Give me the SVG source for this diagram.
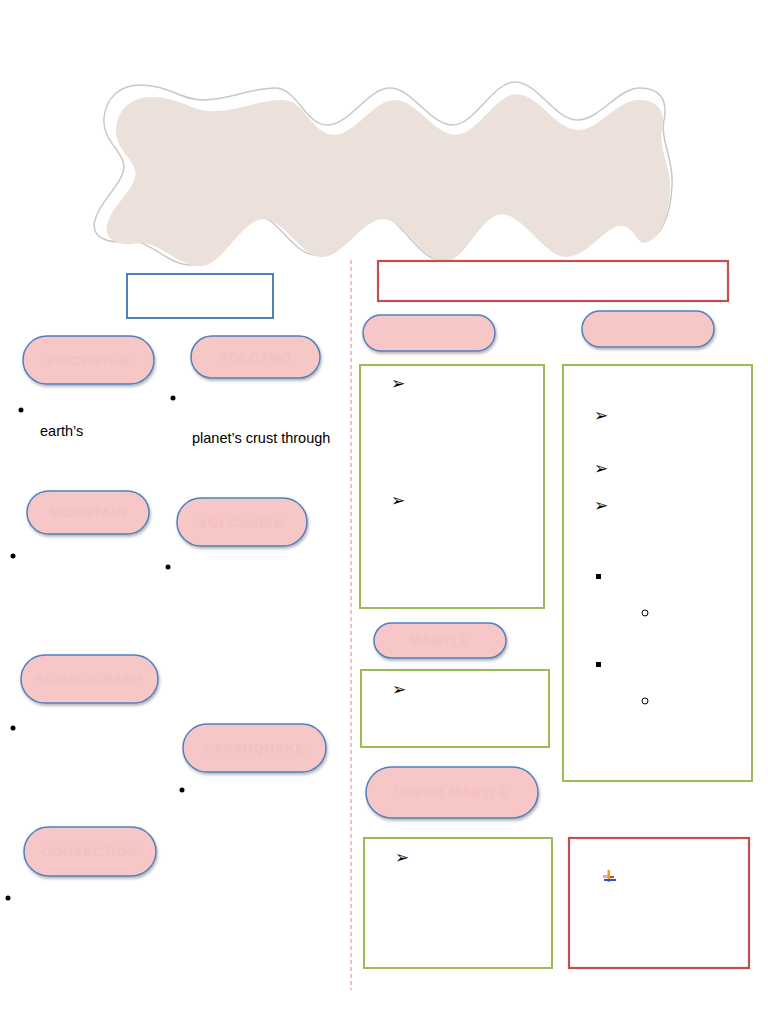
<svg xmlns="http://www.w3.org/2000/svg" width="768" height="1024" viewBox="0 0 768 1024">
<style>
  .pill { fill: #f7c6c7; stroke: #4f81bd; stroke-width: 1.5; filter: url(#sh); }
  .ptxt { font-family: "Liberation Sans", Arial, sans-serif; font-size: 13px; font-weight: bold; fill: #f4c1c3; text-anchor: middle; letter-spacing: 1px; }
  .gbox { fill: none; stroke: #9bbb59; stroke-width: 2; }
  .rbox { fill: none; stroke: #c0504d; stroke-width: 2.2; }
  .dot { fill: #000; }
  .arw { font-family: "DejaVu Sans", sans-serif; font-size: 17px; fill: #000; }
  .txt { font-family: "Liberation Sans", Arial, sans-serif; font-size: 14.5px; fill: #000; }
</style>
<defs>
  <filter id="sh" x="-10%" y="-20%" width="125%" height="150%">
    <feDropShadow dx="1" dy="2" stdDeviation="1.5" flood-color="#000" flood-opacity="0.3"/>
  </filter>
  <path id="wave" d="M104,118 C106,96 122,85 140,85 C170,85 180,100 202.5,100 C230,100 250,88 275,88 C297.5,88 305,125 327.5,125 C350,125 367.5,88 390,88 C412.5,88 430,125 452.5,125 C475,125 492.5,82 515,82 C537.5,82 555,120 577.5,120 C600,120 617.5,88 640,88 C660,88 668,100 664,120 C660,140 674,160 672,185 C671,215 660,240 645,240 C637,238 634,222 622,222 C605.5,222 588,255 565.5,255 C543,255 522.5,210 500,210 C477.5,210 463,260 440.5,260 C418,260 400.5,215 378,215 C355.5,215 338,255 315.5,255 C293,255 277.5,215 255,215 C232.5,215 213,265 190.5,265 C168,265 150,240 128,240 C110,245 90,238 95,220 C100,200 125,182 124,165 C122,150 102,140 104,118 Z"/>
</defs>
<rect width="768" height="1024" fill="#fff"/>

<g id="banner">
  <use href="#wave" fill="#fff" stroke="#c8c8c8" stroke-width="1.5"/>
  <use href="#wave" fill="#ebe1da" transform="translate(390,177) scale(0.975,0.94) translate(-385,-170)"/>
</g>

<g id="connectors">
  <line x1="351" y1="260" x2="351" y2="990" stroke="#e08585" stroke-width="1" stroke-dasharray="4,3"/>
</g>

<g id="title-left"><rect x="127" y="274" width="146" height="44" fill="none" stroke="#4f81bd" stroke-width="2"/></g>
<g id="title-right"><rect x="378" y="261" width="350" height="40" class="rbox"/></g>

<g id="epicenter"><rect class="pill" x="23" y="336" width="131" height="48" rx="24"/><text class="ptxt" x="88.5" y="365">EPICENTER</text></g>
<g id="volcano"><rect class="pill" x="191" y="336" width="129" height="42" rx="21"/><text class="ptxt" x="255.5" y="362">VOLCANO</text></g>
<g id="mountain"><rect class="pill" x="27" y="491" width="122" height="43" rx="21.5"/><text class="ptxt" x="88" y="517">MOUNTAIN</text></g>
<g id="volcanism"><rect class="pill" x="177" y="498" width="130" height="48" rx="24"/><text class="ptxt" x="242" y="527">VOLCANISM</text></g>
<g id="seismograph"><rect class="pill" x="21" y="655" width="137" height="48" rx="24"/><text class="ptxt" x="89.5" y="684">SEISMOGRAPH</text></g>
<g id="earthquake"><rect class="pill" x="183" y="724" width="143" height="48" rx="24"/><text class="ptxt" x="254.5" y="753">EARTHQUAKE</text></g>
<g id="convection"><rect class="pill" x="24" y="827" width="132" height="49" rx="24.5"/><text class="ptxt" x="90" y="856">CONVECTION</text></g>
<g id="pill-r1"><rect class="pill" x="363" y="315" width="132" height="36" rx="18"/></g>
<g id="pill-r2"><rect class="pill" x="582" y="311" width="132" height="36" rx="18"/></g>
<g id="mantle"><rect class="pill" x="374" y="623" width="132" height="35" rx="17.5"/><text class="ptxt" x="440" y="645">MANTLE</text></g>
<g id="upper-mantle"><rect class="pill" x="366" y="767" width="172" height="51" rx="25.5"/><text class="ptxt" x="452" y="797">UPPER MANTLE</text></g>

<g id="box-a"><rect class="gbox" x="360" y="365" width="184" height="243"/>
  <text class="arw" x="391" y="389">➢</text><text class="arw" x="391" y="506">➢</text></g>
<g id="box-b"><rect class="gbox" x="563" y="365" width="189" height="416"/>
  <text class="arw" x="594" y="421">➢</text><text class="arw" x="594" y="474">➢</text><text class="arw" x="594" y="511">➢</text>
  <rect x="596" y="574" width="5" height="5" fill="#000"/><rect x="596" y="662" width="5" height="5" fill="#000"/>
  <circle cx="645" cy="613" r="3" fill="none" stroke="#000" stroke-width="1"/><circle cx="645" cy="701" r="3" fill="none" stroke="#000" stroke-width="1"/></g>
<g id="box-c"><rect class="gbox" x="361" y="670" width="188" height="77"/>
  <text class="arw" x="392" y="695">➢</text></g>
<g id="box-d"><rect class="gbox" x="364" y="838" width="188" height="130"/>
  <text class="arw" x="395" y="863">➢</text></g>
<g id="box-e"><rect class="rbox" x="569" y="838" width="180" height="130"/>
  <rect x="603" y="875" width="6" height="3" fill="#f4a0b0"/>
  <rect x="607.5" y="870" width="2.5" height="12" fill="#e8a020"/>
  <rect x="604" y="879" width="12" height="2" fill="#3050d0"/>
  <rect x="610" y="876" width="4" height="2" fill="#d04040"/></g>

<g id="bullets">
  <circle class="dot" cx="21" cy="410" r="2.5"/>
  <circle class="dot" cx="173" cy="398" r="2.5"/>
  <circle class="dot" cx="13" cy="556" r="2.5"/>
  <circle class="dot" cx="168" cy="567" r="2.5"/>
  <circle class="dot" cx="13" cy="728" r="2.5"/>
  <circle class="dot" cx="182" cy="790" r="2.5"/>
  <circle class="dot" cx="8" cy="898" r="2.5"/>
  <text class="txt" x="40" y="436">earth’s</text>
  <text class="txt" x="192" y="443">planet’s crust through</text>
</g>
</svg>
